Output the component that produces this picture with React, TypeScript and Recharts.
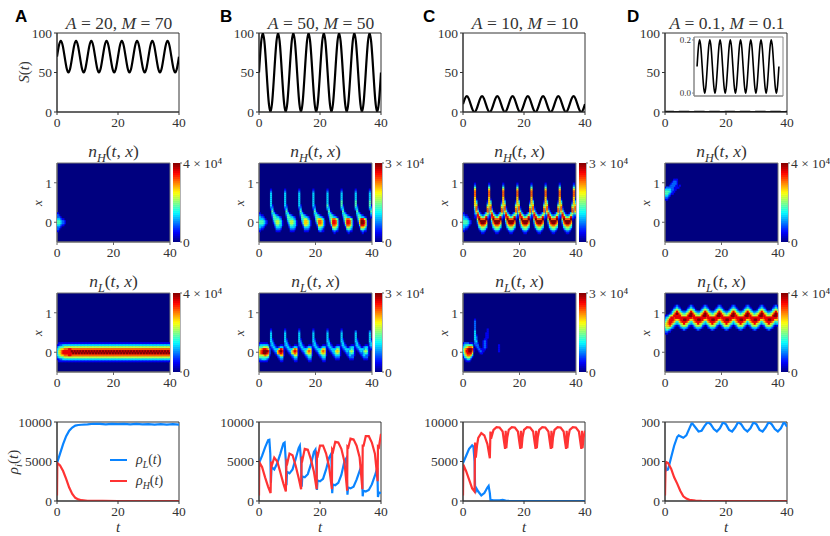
import React from 'react';
import { LineChart, Line, ScatterChart, Scatter, XAxis, YAxis, ReferenceArea } from 'recharts';

// ---------- S(t) ----------
const sTimes = [
  0, 0.625, 1.25, 1.875, 2.5, 3.125, 3.75, 4.375, 5, 5.625, 6.25, 6.875, 7.5, 8.125, 8.75, 9.375,
  10, 10.625, 11.25, 11.875, 12.5, 13.125, 13.75, 14.375, 15, 15.625, 16.25, 16.875, 17.5, 18.125, 18.75, 19.375,
  20, 20.625, 21.25, 21.875, 22.5, 23.125, 23.75, 24.375, 25, 25.625, 26.25, 26.875, 27.5, 28.125, 28.75, 29.375,
  30, 30.625, 31.25, 31.875, 32.5, 33.125, 33.75, 34.375, 35, 35.625, 36.25, 36.875, 37.5, 38.125, 38.75, 39.375, 40,
];
const sA = [
  70, 84, 90, 84, 70, 56, 50, 56, 70, 84, 90, 84, 70, 56, 50, 56, 70, 84, 90, 84, 70, 56, 50, 56, 70, 84, 90, 84, 70, 56, 50, 56,
  70, 84, 90, 84, 70, 56, 50, 56, 70, 84, 90, 84, 70, 56, 50, 56, 70, 84, 90, 84, 70, 56, 50, 56, 70, 84, 90, 84, 70, 56, 50, 56, 70,
];
const sB = [
  50, 85, 100, 85, 50, 15, 0, 15, 50, 85, 100, 85, 50, 15, 0, 15, 50, 85, 100, 85, 50, 15, 0, 15, 50, 85, 100, 85, 50, 15, 0, 15,
  50, 85, 100, 85, 50, 15, 0, 15, 50, 85, 100, 85, 50, 15, 0, 15, 50, 85, 100, 85, 50, 15, 0, 15, 50, 85, 100, 85, 50, 15, 0, 15, 50,
];
const sC = [
  10, 17, 20, 17, 10, 3, 0, 3, 10, 17, 20, 17, 10, 3, 0, 3, 10, 17, 20, 17, 10, 3, 0, 3, 10, 17, 20, 17, 10, 3, 0, 3,
  10, 17, 20, 17, 10, 3, 0, 3, 10, 17, 20, 17, 10, 3, 0, 3, 10, 17, 20, 17, 10, 3, 0, 3, 10, 17, 20, 17, 10, 3, 0, 3, 10,
];
const sD = [
  0.1, 0.17, 0.2, 0.17, 0.1, 0.03, 0, 0.03, 0.1, 0.17, 0.2, 0.17, 0.1, 0.03, 0, 0.03, 0.1, 0.17, 0.2, 0.17, 0.1, 0.03, 0, 0.03, 0.1, 0.17, 0.2, 0.17, 0.1, 0.03, 0, 0.03,
  0.1, 0.17, 0.2, 0.17, 0.1, 0.03, 0, 0.03, 0.1, 0.17, 0.2, 0.17, 0.1, 0.03, 0, 0.03, 0.1, 0.17, 0.2, 0.17, 0.1, 0.03, 0, 0.03, 0.1, 0.17, 0.2, 0.17, 0.1, 0.03, 0, 0.03, 0.1,
];

// ---------- rho(t): [t, value] ----------
type P = [number, number];
const rhoLA: P[] = [[0,4800],[1,6000],[2,7200],[3,8200],[4,8900],[5,9300],[6,9550],[7,9620],[8,9650],[10,9700],[12,9780],[14,9760],[16,9700],[18,9770],[20,9720],[22,9770],[24,9700],[26,9760],[28,9700],[30,9740],[32,9680],[34,9740],[36,9680],[38,9720],[40,9680]];
const rhoHA: P[] = [[0,700],[0.1,4800],[1,4500],[2,3800],[3,2800],[4,1700],[5,900],[6,400],[7,200],[8,100],[10,30],[12,10],[15,5],[20,0],[40,0]];
const rhoLB: P[] = [[0,4800],[1,5700],[2,6800],[3,7700],[3.4,7750],[3.7,6000],[3.9,2300],[4.1,4300],[5,4000],[6,4800],[7,6000],[8,7300],[8.4,7400],[8.8,5000],[9,2000],[9.2,3700],[10,3500],[11,4000],[12,5300],[13,6700],[13.4,7000],[13.8,5000],[14,1800],[14.2,3100],[15,3000],[16,3400],[17,4600],[18,6200],[18.5,6500],[18.8,4500],[19,1400],[19.2,2600],[20,2500],[21,2800],[22,4000],[23,5500],[23.7,6000],[24,1000],[24.2,2100],[25,2000],[26,2300],[27,3300],[28,5000],[28.6,5400],[29,800],[29.2,1700],[30,1600],[31,1800],[32,2700],[33,3800],[33.7,4600],[34,600],[34.2,1300],[35,1200],[36,1400],[37,2100],[38,3200],[38.8,4200],[39,500],[39.3,1100],[40,1000]];
const rhoHB: P[] = [[0,700],[0.1,4900],[1,4300],[2,3000],[3,1800],[3.8,1000],[4,5000],[4.3,4600],[5,5500],[6,5000],[7,3600],[8,2200],[8.8,1200],[9,5000],[9.3,4800],[10,6000],[11,5800],[12,4500],[13,2900],[13.8,1500],[14,5600],[14.3,5300],[15,6600],[16,6500],[17,5300],[18,3700],[18.9,1500],[19,6000],[19.3,5800],[20,7000],[21,7000],[22,6000],[23,4300],[23.9,1500],[24,6500],[24.3,6300],[25,7500],[26,7400],[27,6600],[28,5000],[28.9,1300],[29,6900],[29.3,6800],[30,7900],[31,7800],[32,7000],[33,5500],[33.9,1500],[34,7000],[34.3,7000],[35,8200],[36,8200],[37,7400],[38,6000],[38.9,2500],[39,6900],[39.3,6800],[40,8500]];
const rhoLC: P[] = [[0,4800],[1,5700],[2,6600],[3,7050],[3.4,6900],[3.8,5000],[4,1000],[4.4,1600],[5,1200],[6,700],[7,1000],[8,1700],[8.4,1900],[8.8,1000],[9,150],[10,80],[12,80],[13,130],[14,60],[15,10],[20,0],[40,0]];
const rhoHC: P[] = [[0,700],[0.1,4600],[1,3800],[2,2700],[3,1600],[3.8,1200],[3.95,7400],[4.2,5500],[4.6,7000],[5,8000],[6,8600],[7,8300],[8,7200],[8.8,5400],[9,8800],[9.2,7900],[10,9000],[11,9350],[12,9300],[13,8800],[13.5,7400],[13.8,6600],[14,8900],[14.2,6700],[14.5,8000],[15,9000],[16,9350],[17,9300],[18,8800],[18.5,7400],[18.8,6600],[19,8900],[19.2,6700],[19.5,8000],[20,9000],[21,9350],[22,9300],[23,8800],[23.5,7400],[23.8,6600],[24,8900],[24.2,6700],[24.5,8000],[25,9000],[26,9350],[27,9300],[28,8800],[28.5,7400],[28.8,6600],[29,8900],[29.2,6700],[29.5,8000],[30,9000],[31,9350],[32,9300],[33,8800],[33.5,7400],[33.8,6600],[34,8900],[34.2,6700],[34.5,8000],[35,9000],[36,9350],[37,9300],[38,8800],[38.5,7400],[38.8,6600],[39,8900],[39.2,6700],[39.5,8000],[40,8900]];
const rhoLD: P[] = [[0,4800],[0.5,3900],[1,4000],[2,5500],[3,7000],[4,8100],[4.5,8300],[5,8200],[6,8000],[7,8300],[8,9200],[8.7,9800],[9,9800],[10,9300],[11,8800],[12,8900],[13,9500],[14,10000],[15,9700],[16,9100],[17,8800],[18,9200],[19,9950],[20,9700],[21,9000],[22,8800],[23,9300],[24,10000],[25,9700],[26,9100],[27,8800],[28,9200],[29,9950],[30,9700],[31,9000],[32,8800],[33,9300],[34,10000],[35,9700],[36,9100],[37,8800],[38,9200],[39,10000],[40,9400]];
const rhoHD: P[] = [[0,700],[0.2,4700],[0.5,4900],[1,4800],[2,4100],[3,3000],[4,2200],[5,1300],[6,600],[7,300],[8,150],[10,50],[12,10],[15,0],[40,0]];

// ---------- heat maps ----------
// Rows step 0.05 in x (row r covers 1.5 - 0.05 r), columns step 0.5 in t, digit = level 0-9 of the colour bar.
// "motif*n" is a run of n identical five-unit periods. The first number says which row the list starts on.
const nHA: [number, string[]] = [25, ['1','21','221','33211','443221','443221','33211','221','21','1']];
const nLA: [number, string[]] = [25, [
  '0111111111 1111111111*7',
  '1122333333 3333333333*7',
  '2344455555 5555555555*7',
  '3456677788 7777777777*7',
  '3567888888 9898989898*7',
  '3567888888 8989898989*7',
  '3456677788 7777777777*7',
  '2344455555 5555555555*7',
  '1122333333 3333333333*7',
  '0111111111 1111111111*7',
]];
const nHB: [number, string[]] = [13, [
  '0000000010*8',
  '0000000020*8',
  '0000000030*8',
  '0000000030*8',
  '0000000030*8',
  '0000000030*8',
  '0000000030*5 0000000040*3',
  '0000000030*5 0000000040*3',
  '0000000031*4 0000000041*4',
  '0000000022*4 0000000032*4',
  '0000000013*4 0000000023*4',
  '0000000004 1000000004*7',
  '1000000003 3100000003*7',
  '2110000002 4321000002*7',
  '3221000001 4433210001*7',
  '3332100000 3444320000 3444320000 3455320000 3566430000 3577540000 3577540000 3588640000',
  '4443210000 2455431000 2455431000 2466531000 2577631000 2588741000 2588741000 2699851000',
  '4443210000 1355431000 1355431000 1466531000 1477631000 1588741000 1588741000 1699851000',
  '3332100000 0244331000 0244331000 0255431000 0266531000 0377641000 0377641000 0388751000',
  '3221000000 0133320000 0133320000 0133320000 0144320000 0155430000 0155430000 0166530000',
  '2110000000 0022210000 0022210000 0022210000 0033210000 0034320000 0034320000 0044320000',
  '1000000000 0011100000 0011100000 0011100000 0012110000 0012110000 0012110000 0012110000',
  '0000000000*5 0001000000*3',
]];
const nLB: [number, string[]] = [18, [
  '0000000010*6',
  '0000000020*8',
  '0000000030*8',
  '0000000030*8',
  '0000000030*8',
  '0000000031*8',
  '0000000032*8',
  '1111110023 1000000023*7',
  '2333332023 2100011023*7',
  '4445554012 3211233112*7',
  '5678876201 2333687101 2333576101 2333465101 2333465101 2333354101 2333243101 2333243101',
  '6789998200 1236898100 1235787100 1234676100 1234676100 1233565100 1232454100 1232454100',
  '6789987200 0126787100 0125676100 0124565100 0124565100 0123454100 0122343100 0122343100',
  '5556765100 0012366100 0012355100 0012344100 0012344100 0012333100 0012322100 0012322100',
  '4444443000 0001233000*4 0001222000*3',
  '2233321000 0000122000*4 0000111000*3',
  '1111110000 0000011000*4',
]];
const nHC: [number, string[]] = [10, [
  '0000000010*8',
  '0000000020*8',
  '0000000040*8',
  '0000000060*8',
  '0000000070*8',
  '0000000070*8',
  '0000000070*8',
  '0000000060*8',
  '0000000061*8',
  '0000000063 0000000163*7',
  '0000000064 0000000264*7',
  '0000000056 0000000456*7',
  '0000000047 1000000647*7',
  '0000000037 2000000737*7',
  '0000000026 4100000726*7',
  '1000000024 7310013524*7',
  '2110000012 8532235312*7',
  '3221000011 7854458211*7',
  '3332100000 5977779100*7',
  '4443210000 3799997000*7',
  '4443210000 2689986000*7',
  '3332100000 1467764000*7',
  '3221000000 0345543000*7',
  '2110000000 0134431000*7',
  '1000000000 0012210000*7',
  '0000000000 0001100000*7',
]];
const nLC: [number, string[]] = [13, [
  '0000000010',
  '0000000020',
  '0000000020',
  '0000000020',
  '0000000020',
  '0000000020 0000000100',
  '0000000030 0000000100',
  '0000000030 0000001100',
  '0000000031 0000001100',
  '0000000032 0000001100',
  '0000000032 0000011000',
  '0000000023 0000121000',
  '1222111022 1000121000',
  '2344443012 2000121000 0000010000',
  '3456776001 2100121000 0000010000',
  '4678998100 1211110000 0000010000',
  '4688997100 0121100000 0000010000',
  '3578885000 0011000000',
  '2467763000',
  '1345531000',
  '0123310000',
  '0011100000',
]];
const nHD: [number, string[]] = [8, [
  '0000001110',
  '0000012210',
  '0000122210',
  '0001222110 1',
  '1222221111',
  '3333221100',
  '4443211000',
  '4432110000',
  '3321000000',
  '2210000000',
  '1100000000',
]];
const nLD: [number, string[]] = [6, [
  '0000000121*8',
  '0000001232 1000001232*7',
  '0000013454 3100013454*7',
  '0000134686 4322234686*7',
  '0001246898 6543456898*7',
  '1124568888 8655568998*7',
  '2346887888 8888888887*7',
  '3468887656 7889988656*7',
  '4578876434 6788876434*7',
  '5678754323 4568654323*7',
  '5667532101 2455542101*7',
  '4554321000 1233321000*7',
  '3432100000 0012100000*7',
  '2211000000',
  '1100000000',
]];

const timeTicks = [0, 20, 40];
const colorbarSteps = 40;
const FONT = '"Liberation Serif", serif';
const INK = '#333';
const BLUE = '#0a84ff';
const RED = '#ff3333';

const jet = (v: number) => {
  const c = (m: number) => Math.round(255 * Math.max(0, Math.min(1, 1.5 - Math.abs(4 * v - m))));
  return `rgb(${c(3)},${c(2)},${c(1)})`;
};

const tickStyle = { fontFamily: FONT, fontSize: 13.5, fill: INK };

const W = 122, H = 79, HW = 113, PAD = 10;

function LinePanel({ left, top, series, yTicks, yMax, sw }: any) {
  return (
    <div style={{ position: 'absolute', left: left - 45, top: top - PAD }}>
      <LineChart width={W + 60} height={H + 25 + PAD} margin={{ top: PAD, right: 15, left: 0, bottom: 0 }}>
        <XAxis type="number" dataKey="t" domain={[0, 40]} ticks={timeTicks} interval={0} height={25} tickSize={3} tickMargin={2} tick={tickStyle} stroke={INK} allowDataOverflow />
        <YAxis type="number" domain={[0, yMax]} ticks={yTicks} interval={0} width={45} tickSize={3} tickMargin={2} tick={tickStyle} stroke={INK} allowDataOverflow />
        <ReferenceArea x1={0} x2={40} y1={0} y2={yMax} fill="none" stroke={INK} />
        {series.map((s: any, i: number) => (
          <Line key={i} data={s.data} dataKey="v" type={s.curve || 'linear'} stroke={s.color} strokeWidth={sw} dot={false} isAnimationActive={false} legendType="none" />
        ))}
      </LineChart>
    </div>
  );
}

const sSeries = (vals: number[]) => sTimes.map((t, i) => ({ t, v: vals[i] }));
const rhoSeries = (pts: P[]) => pts.map(([t, v]) => ({ t, v }));

function Inset() {
  return (
    <div style={{ position: 'absolute', left: 694 - 25, top: 37 - PAD }}>
      <LineChart width={89 + 30} height={59 + 5 + PAD} margin={{ top: PAD, right: 5, left: 0, bottom: 0 }}>
        <XAxis type="number" dataKey="t" domain={[-1.5, 42]} ticks={timeTicks} interval={0} height={5} tickSize={2} tick={false} stroke="#888" allowDataOverflow />
        <YAxis type="number" domain={[-0.011, 0.211]} ticks={[0, 0.2]} interval={0} width={25} tickSize={2} tickMargin={1} tickFormatter={(v: number) => v.toFixed(1)} tick={{ fontFamily: FONT, fontSize: 9, fill: INK }} stroke="#888" allowDataOverflow />
        <ReferenceArea x1={-1.5} x2={42} y1={-0.011} y2={0.211} fill="none" stroke="#888" />
        <Line data={sSeries(sD)} dataKey="v" type="natural" stroke="#000" strokeWidth={1.6} dot={false} isAnimationActive={false} />
      </LineChart>
    </div>
  );
}

const cellsOf = ([from, rows]: [number, string[]]) => {
  const out: any[] = [];
  rows.forEach((r, i) => {
    const s = r.split(' ').map((tok) => {
      const [m, n] = tok.split('*');
      return m.repeat(n ? +n : 1);
    }).join('');
    for (let c = 0; c < s.length; c++) {
      const level = +s[c];
      if (level > 0) out.push({ t: (c + 0.5) * 0.5, x: 1.475 - 0.05 * (from + i), level });
    }
  });
  return out.sort((a, b) => a.level - b.level);
};

function HeatPanel({ left, top, rows, max }: any) {
  const cw = (HW / 80) * 1.5, ch = (H / 40) * 1.1;
  return (
    <>
      <div style={{ position: 'absolute', left: left - 45, top: top - PAD }}>
        <ScatterChart width={HW + 60} height={H + 25 + PAD} margin={{ top: PAD, right: 15, left: 0, bottom: 0 }}>
          <XAxis type="number" dataKey="t" domain={[0, 40]} ticks={timeTicks} interval={0} height={25} tickSize={3} tickMargin={2} tick={tickStyle} stroke="#666" allowDataOverflow />
          <YAxis type="number" dataKey="x" domain={[-0.5, 1.5]} ticks={[0, 1]} interval={0} width={45} tickSize={3} tickMargin={2} tick={tickStyle} stroke="#666" allowDataOverflow />
          <ReferenceArea x1={0} x2={40} y1={-0.5} y2={1.5} fill="#00007f" fillOpacity={1} stroke="#777" />
          <Scatter className="heat-layer" data={cellsOf(rows)} isAnimationActive={false}
            shape={(p: any) => <rect x={p.cx - cw / 2} y={p.cy - ch / 2} width={cw} height={ch} fill={jet(p.payload.level / 9)} />} />
        </ScatterChart>
      </div>
      <div style={{ position: 'absolute', left: left + 116, top: top - PAD }}>
        <ScatterChart width={7 + 60} height={H + 2 * PAD} margin={{ top: PAD, right: 10, left: 0, bottom: PAD }}>
          <XAxis type="number" dataKey="c" domain={[0, 1]} hide />
          <YAxis type="number" dataKey="v" orientation="right" domain={[0, max]} ticks={[0, max]} interval={0} width={50} tickSize={2} tickMargin={1}
            tickFormatter={(v: number) => (v === 0 ? '0' : `${v / 10000} × 10⁴`)} tick={tickStyle} stroke="#666" allowDataOverflow />
          <Scatter data={Array.from({ length: colorbarSteps }, (_, i) => ({ c: 0.5, v: ((i + 0.5) / colorbarSteps) * max, f: (i + 0.5) / colorbarSteps }))} isAnimationActive={false}
            shape={(p: any) => <rect x={p.cx - 3.5} y={p.cy - H / colorbarSteps / 2 - 0.2} width={7} height={H / colorbarSteps + 0.4} fill={jet(p.payload.f)} />} />
        </ScatterChart>
      </div>
    </>
  );
}

const abs = (left: number, top: number, extra: any = {}) => ({ position: 'absolute', left, top, fontFamily: FONT, color: INK, whiteSpace: 'nowrap', lineHeight: 1, ...extra });
const I = ({ children }: any) => <i>{children}</i>;
const Sub = ({ children }: any) => <sub style={{ fontSize: '70%', lineHeight: 0, fontStyle: 'italic' }}>{children}</sub>;

function Center({ x, y, size, children }: any) {
  return <div style={abs(x - 100, y, { width: 200, textAlign: 'center', fontSize: size })}>{children}</div>;
}
function Rot({ x, y, size, children }: any) {
  return <div style={abs(x - 50, y - 50, { width: 100, height: 100, display: 'flex', alignItems: 'center', justifyContent: 'center', transform: 'rotate(-90deg)', fontSize: size })}>{children}</div>;
}

const columns = [
  { left: 57, letter: 'A', lx: 15, a: '20', m: '70', s: sA, nH: nHA, nL: nLA, maxH: 40000, maxL: 40000, rhoL: rhoLA, rhoH: rhoHA },
  { left: 259, letter: 'B', lx: 220, a: '50', m: '50', s: sB, nH: nHB, nL: nLB, maxH: 30000, maxL: 30000, rhoL: rhoLB, rhoH: rhoHB },
  { left: 463, letter: 'C', lx: 423, a: '10', m: '10', s: sC, nH: nHC, nL: nLC, maxH: 30000, maxL: 30000, rhoL: rhoLC, rhoH: rhoHC },
  { left: 665, letter: 'D', lx: 627, a: '0.1', m: '0.1', s: sD, nH: nHD, nL: nLD, maxH: 40000, maxL: 40000, rhoL: rhoLD, rhoH: rhoHD },
];

export default function App() {
  return (
    <div style={{ position: 'absolute', left: 0, top: 0, width: 830, height: 536, background: '#fff', overflow: 'hidden' }}>
      <style>{`.heat-layer { filter: blur(0.75px); }`}</style>
      {columns.map((c, k) => {
        const rhoSer = [
          { data: rhoSeries(c.rhoL), color: BLUE },
          { data: rhoSeries(c.rhoH), color: RED },
        ];
        const rho = <LinePanel left={c.left} top={422} series={rhoSer} yTicks={[0, 5000, 10000]} yMax={10000} sw={2.2} />;
        return (
          <React.Fragment key={c.letter}>
            <div style={abs(c.lx, 8, { fontFamily: '"Liberation Sans", sans-serif', fontWeight: 700, fontSize: 17, color: '#000' })}>{c.letter}</div>
            <Center x={c.left + 62} y={15} size={17.5}><I>A</I> = {c.a}, <I>M</I> = {c.m}</Center>
            <LinePanel left={c.left} top={33} series={[{ data: sSeries(c.s), color: '#000', curve: 'natural' }]} yTicks={[0, 50, 100]} yMax={100} sw={2.2} />
            <Center x={c.left + 56.5} y={143} size={17.5}><I>n</I><Sub>H</Sub>(<I>t</I>, <I>x</I>)</Center>
            <HeatPanel left={c.left} top={163} rows={c.nH} max={c.maxH} />
            <Center x={c.left + 56.5} y={273} size={17.5}><I>n</I><Sub>L</Sub>(<I>t</I>, <I>x</I>)</Center>
            <HeatPanel left={c.left} top={293} rows={c.nL} max={c.maxL} />
            {k === 3 ? (
              <div style={{ position: 'absolute', left: 642, top: 410, width: 188, height: 126, overflow: 'hidden' }}>
                <div style={{ position: 'absolute', left: -642, top: -410 }}>{rho}</div>
              </div>
            ) : rho}
            <Center x={c.left + 61} y={520} size={15}><I>t</I></Center>
            <Rot x={c.left - 20} y={203} size={13}><I>x</I></Rot>
            <Rot x={c.left - 20} y={333} size={13}><I>x</I></Rot>
          </React.Fragment>
        );
      })}
      <Inset />
      <Rot x={24} y={72} size={15}><span><I>S</I>(<I>t</I>)</span></Rot>
      <Rot x={13} y={462} size={15}><span><I>ρ<Sub>i</Sub></I>(<I>t</I>)</span></Rot>
      {/* legend */}
      <svg style={{ position: 'absolute', left: 105, top: 450 }} width={30} height={40}>
        <line x1={5} x2={22} y1={10} y2={10} stroke={BLUE} strokeWidth={2} />
        <line x1={5} x2={22} y1={31} y2={31} stroke={RED} strokeWidth={2} />
      </svg>
      <div style={abs(136, 453, { fontSize: 14 })}><I>ρ<Sub>L</Sub></I>(<I>t</I>)</div>
      <div style={abs(136, 474, { fontSize: 14 })}><I>ρ<Sub>H</Sub></I>(<I>t</I>)</div>
    </div>
  );
}
